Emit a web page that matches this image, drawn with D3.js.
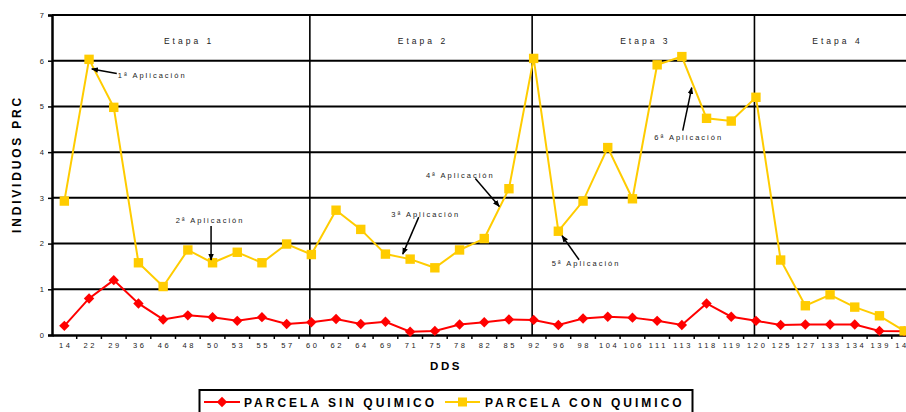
<!DOCTYPE html>
<html>
<head>
<meta charset="utf-8">
<script src="https://cdn.jsdelivr.net/npm/d3@7"></script>
<style>
  html, body { margin: 0; padding: 0; background: #fff; }
  svg { display: block; font-family: "Liberation Sans", Arial, sans-serif; }
</style>
</head>
<body>
<svg id="chart" width="906" height="412"></svg>
<script>
// Days after sowing (DDS)
const dds = ["14","22","29","36","46","48","50","53","55","57",
             "60","62","64","69","71","75","78","82","85",
             "92","96","98","104","106","111","113","118","119",
             "120","125","127","133","134","139","140"];

// Individuals per plot, without chemical control
const sinQuimico = [0.20,0.80,1.20,0.69,0.34,0.43,0.39,0.31,0.39,0.24,
                    0.28,0.35,0.24,0.29,0.07,0.09,0.23,0.28,0.34,
                    0.33,0.22,0.36,0.40,0.38,0.31,0.22,0.69,0.40,
                    0.31,0.22,0.23,0.23,0.23,0.09,0.08];

// Individuals per plot, with chemical control
const conQuimico = [2.93,6.03,4.98,1.58,1.06,1.86,1.58,1.81,1.58,1.99,
                    1.76,2.73,2.31,1.77,1.66,1.47,1.86,2.11,3.20,
                    6.05,2.27,2.93,4.10,2.98,5.91,6.09,4.74,4.68,
                    5.20,1.64,0.64,0.88,0.61,0.42,0.09];

const yTicks = [0,1,2,3,4,5,6,7];

// Crop stages: label and the DDS where each starts
const stageNames = ["Etapa 1","Etapa 2","Etapa 3","Etapa 4"];
const stageStarts = ["14","60","92","120"];

// Application notes: text and the point (category position, value) the arrow aims at
const appTexts  = ["1ª Aplicación","2ª Aplicación","3ª Aplicación","4ª Aplicación","5ª Aplicación","6ª Aplicación"];
const appAtPos  = [1.11, 5.94, 13.70, 17.61, 20.15, 25.40];
const appAtVal  = [5.82, 1.64, 1.77, 2.81, 2.17, 5.41];

const seriesNames = ["PARCELA SIN QUIMICO","PARCELA CON QUIMICO"];

// ---- layout ----
const svg = d3.select("#chart");
const plotLeft = 52, plotTop = 15, plotBottom = 335, band = 24.7;
const plotRight = plotLeft + band * dds.length;

const x = d3.scaleBand().domain(dds).range([plotLeft, plotRight]).paddingInner(0).paddingOuter(0);
const cx = d => x(d) + x.bandwidth() / 2;
const xPos = p => plotLeft + band * (p + 0.5);
const y = d3.scaleLinear().domain([0, 7]).range([plotBottom, plotTop]);

const RED = "#ff0000", YEL = "#ffcc00";

// horizontal gridlines
svg.append("g").selectAll("line").data(yTicks.filter(t => t > 0)).join("line")
  .attr("x1", plotLeft).attr("x2", plotRight)
  .attr("y1", d => y(d)).attr("y2", d => y(d))
  .attr("stroke", "#000").attr("stroke-width", 2);

// stage separators
svg.append("g").selectAll("line").data(stageStarts.slice(1)).join("line")
  .attr("x1", d => cx(d) - 1.5).attr("x2", d => cx(d) - 1.5)
  .attr("y1", plotTop).attr("y2", plotBottom)
  .attr("stroke", "#000").attr("stroke-width", 1.6);

// stage labels
const stageEdges = stageStarts.map(s => cx(s) - 1.5).concat([plotRight]);
stageEdges[0] = cx(stageStarts[0]);
svg.append("g").selectAll("text").data(stageNames).join("text")
  .attr("x", (d, i) => (stageEdges[i] + stageEdges[i + 1]) / 2 + 2)
  .attr("y", 44)
  .attr("text-anchor", "middle")
  .attr("font-size", 8.5).attr("letter-spacing", 3).attr("fill", "#222")
  .text(d => d);

// y axis
const yAxis = d3.axisLeft(y).tickValues(yTicks).tickSize(4).tickPadding(4).tickFormat(d3.format("d"));
const gy = svg.append("g").attr("transform", `translate(${plotLeft},0)`).call(yAxis);
gy.select(".domain").attr("stroke", "#000").attr("stroke-width", 2.5);
gy.selectAll(".tick line").attr("stroke", "#000").attr("stroke-width", 1.5);
gy.selectAll(".tick text").attr("font-size", 7.5).attr("fill", "#222")
  .attr("font-family", "Liberation Sans, Arial, sans-serif");

// x axis
const xAxis = d3.axisBottom(x).tickSize(0).tickPadding(8);
const gx = svg.append("g").attr("transform", `translate(0,${plotBottom})`).call(xAxis);
gx.select(".domain").attr("stroke", "#000").attr("stroke-width", 2.5);
gx.selectAll(".tick text").attr("font-size", 7.5).attr("letter-spacing", 2.6).attr("fill", "#222")
  .attr("dx", 1.3)
  .attr("font-family", "Liberation Sans, Arial, sans-serif");
// tick marks between categories
svg.append("g").selectAll("line").data(dds.slice(1)).join("line")
  .attr("x1", d => x(d)).attr("x2", d => x(d))
  .attr("y1", plotBottom).attr("y2", plotBottom + 4)
  .attr("stroke", "#000").attr("stroke-width", 1.5);

// series: plot without chemical first, the treated plot drawn over it
const line = d3.line().x((d, i) => cx(dds[i])).y(d => y(d));
const diamond = "M0,-5.2L5.2,0L0,5.2L-5.2,0Z";

svg.append("path").datum(sinQuimico).attr("d", line)
  .attr("fill", "none").attr("stroke", RED).attr("stroke-width", 2);
svg.append("g").selectAll("path").data(sinQuimico).join("path")
  .attr("d", diamond)
  .attr("transform", (d, i) => `translate(${cx(dds[i])},${y(d)})`)
  .attr("fill", RED);

svg.append("path").datum(conQuimico).attr("d", line)
  .attr("fill", "none").attr("stroke", YEL).attr("stroke-width", 2);
svg.append("g").selectAll("rect").data(conQuimico).join("rect")
  .attr("x", (d, i) => cx(dds[i]) - 4.7).attr("y", d => y(d) - 4.7)
  .attr("width", 9.4).attr("height", 9.4).attr("fill", YEL);

// annotations
const defs = svg.append("defs");
defs.append("marker").attr("id", "arrow").attr("viewBox", "0 0 10 10")
  .attr("refX", 9).attr("refY", 5).attr("markerWidth", 7).attr("markerHeight", 7)
  .attr("markerUnits", "userSpaceOnUse")
  .attr("orient", "auto-start-reverse")
  .append("path").attr("d", "M0,1L10,5L0,9Z").attr("fill", "#000");

// tail offset and text offset from each arrow tip, in pixels
const tailOff = [[25, 4.5], [0, -34], [16, -37], [-24, -28], [17, 24], [-9, 43]];
const textOff = [[26, 9], [-1, -37], [23, -37], [-39, -29], [24, 30], [-3, 52]];
const textAnchor = ["start", "middle", "middle", "middle", "middle", "middle"];

const ann = svg.append("g");
appTexts.forEach((t, i) => {
  const hx = xPos(appAtPos[i]), hy = y(appAtVal[i]);
  ann.append("line")
    .attr("x1", hx + tailOff[i][0]).attr("y1", hy + tailOff[i][1])
    .attr("x2", hx).attr("y2", hy)
    .attr("stroke", "#000").attr("stroke-width", 1.5)
    .attr("marker-end", "url(#arrow)");
  ann.append("text")
    .attr("x", hx + textOff[i][0]).attr("y", hy + textOff[i][1])
    .attr("text-anchor", textAnchor[i])
    .attr("font-size", 7.5).attr("letter-spacing", 2).attr("fill", "#222")
    .text(t);
});

// axis titles
svg.append("text")
  .attr("transform", `translate(21,164) rotate(-90)`)
  .attr("text-anchor", "middle")
  .attr("font-size", 12).attr("font-weight", "bold").attr("letter-spacing", 2.8)
  .attr("fill", "#000")
  .text("INDIVIDUOS PRC");

svg.append("text")
  .attr("x", 446).attr("y", 370)
  .attr("text-anchor", "middle")
  .attr("font-size", 11.5).attr("font-weight", "bold").attr("letter-spacing", 2.5)
  .attr("fill", "#000")
  .text("DDS");

// legend
const lg = svg.append("g");
lg.append("rect").attr("x", 199.5).attr("y", 390).attr("width", 493).attr("height", 40)
  .attr("fill", "#fff").attr("stroke", "#000").attr("stroke-width", 2);

const legendItems = [
  { name: seriesNames[0], color: RED, x0: 204, x1: 240, tx: 244, shape: "diamond" },
  { name: seriesNames[1], color: YEL, x0: 445, x1: 480, tx: 485, shape: "square" }
];
const ly = 402;
legendItems.forEach(it => {
  lg.append("line").attr("x1", it.x0).attr("x2", it.x1).attr("y1", ly).attr("y2", ly)
    .attr("stroke", it.color).attr("stroke-width", 2);
  const mx = (it.x0 + it.x1) / 2;
  if (it.shape === "diamond") {
    lg.append("path").attr("d", diamond).attr("transform", `translate(${mx},${ly})`).attr("fill", it.color);
  } else {
    lg.append("rect").attr("x", mx - 4.5).attr("y", ly - 4.5).attr("width", 9).attr("height", 9).attr("fill", it.color);
  }
  lg.append("text").attr("x", it.tx).attr("y", ly + 4.5)
    .attr("font-size", 12).attr("font-weight", "bold").attr("letter-spacing", 3)
    .attr("fill", "#000")
    .text(it.name);
});
</script>
</body>
</html>
